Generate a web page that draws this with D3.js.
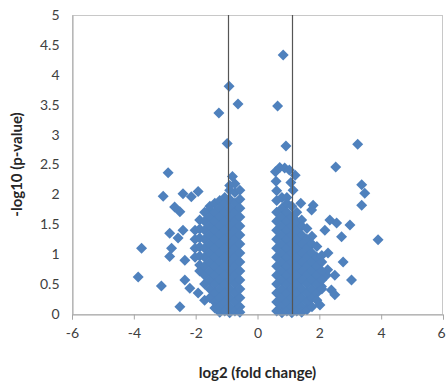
<!DOCTYPE html>
<html><head><meta charset="utf-8">
<script src="https://cdn.jsdelivr.net/npm/d3@7"></script>
<style>body{margin:0;background:#fff}svg{display:block}</style>
</head><body><svg id="c" width="446" height="383"></svg>
<script>
// ---- data ----
const xTicks = [-6, -4, -2, 0, 2, 4, 6];
const yTicks = [0, 0.5, 1, 1.5, 2, 2.5, 3, 3.5, 4, 4.5, 5];
const cutoffLines = [-0.95, 1.12];
const xTitle = "log2 (fold change)";
const yTitle = "-log10 (p-value)";

const log2FC = [
  // isolated points
  0.83, -0.92, -0.63, -1.25, 0.65, -0.98, 0.92, 3.24, 2.53, -0.81,
  -2.89, -3.05, -2.41, -1.92, -2.14, -2.68, -2.51, -1.54, -2.41, -2.84,
  -2.57, -3.75, -2.78, -2.84, -2.35, -3.86, -3.11, -2.35, -2.19, -1.92,
  -1.71, -2.51,
  3.47, 3.37, 3.37, 1.80, 1.75, 2.34, 2.56, 2.99, 2.18, 2.72,
  3.90, 2.28, 2.77, 2.23, 2.50, 3.04, 2.07, 2.39, 2.50, 2.02,
  2.27, 1.40,
  0.58, 0.72, 0.88, 1.03, 1.22, 0.60, 0.62, 1.08, 1.15,
  // dense cloud, down-regulated side
  -2.02, -2.02, -2.02, -2.02,
  -1.87, -1.87, -1.87, -1.87, -1.87, -1.87, -1.87,
  -1.71, -1.71, -1.71, -1.71, -1.71, -1.71, -1.71, -1.71, -1.71,
  -1.54, -1.54, -1.54, -1.54, -1.54, -1.54, -1.54, -1.54, -1.54, -1.54, -1.54,
  -1.38, -1.38, -1.38, -1.38, -1.38, -1.38, -1.38, -1.38, -1.38, -1.38, -1.38, -1.38, -1.38,
  -1.22, -1.22, -1.22, -1.22, -1.22, -1.22, -1.22, -1.22, -1.22, -1.22, -1.22, -1.22, -1.22, -1.22,
  -1.06, -1.06, -1.06, -1.06, -1.06, -1.06, -1.06, -1.06, -1.06, -1.06, -1.06, -1.06, -1.06, -1.06,
  -0.90, -0.90, -0.90, -0.90, -0.90, -0.90, -0.90, -0.90, -0.90, -0.90, -0.90, -0.90, -0.90, -0.90, -0.90, -0.90,
  -0.73, -0.73, -0.73, -0.73, -0.73, -0.73, -0.73, -0.73, -0.73, -0.73, -0.73, -0.73, -0.73, -0.73, -0.73,
  -0.57, -0.57, -0.57, -0.57, -0.57, -0.57, -0.57, -0.57, -0.57, -0.57, -0.57, -0.57, -0.57, -0.57, -0.57,
  // dense cloud, up-regulated side
  0.62, 0.62, 0.62, 0.62, 0.62, 0.62, 0.62, 0.62, 0.62, 0.62, 0.62, 0.62, 0.62,
  0.79, 0.79, 0.79, 0.79, 0.79, 0.79, 0.79, 0.79, 0.79, 0.79, 0.79, 0.79, 0.79, 0.79,
  0.95, 0.95, 0.95, 0.95, 0.95, 0.95, 0.95, 0.95, 0.95, 0.95, 0.95, 0.95, 0.95, 0.95,
  1.11, 1.11, 1.11, 1.11, 1.11, 1.11, 1.11, 1.11, 1.11, 1.11, 1.11, 1.11, 1.11,
  1.27, 1.27, 1.27, 1.27, 1.27, 1.27, 1.27, 1.27, 1.27, 1.27, 1.27, 1.27,
  1.43, 1.43, 1.43, 1.43, 1.43, 1.43, 1.43, 1.43, 1.43, 1.43, 1.43, 1.43,
  1.60, 1.60, 1.60, 1.60, 1.60, 1.60, 1.60, 1.60, 1.60, 1.60,
  1.76, 1.76, 1.76, 1.76, 1.76, 1.76, 1.76, 1.76, 1.76,
  1.92, 1.92, 1.92, 1.92, 1.92, 1.92, 1.92,
  2.08, 2.08, 2.08, 2.08, 2.08
];

const negLog10P = [
  // isolated points
  4.33, 3.81, 3.51, 3.36, 3.48, 2.85, 2.81, 2.84, 2.46, 2.30,
  2.36, 1.97, 2.01, 2.05, 1.96, 1.79, 1.71, 1.74, 1.40, 1.35,
  1.27, 1.10, 1.10, 0.96, 0.90, 0.62, 0.47, 0.57, 0.43, 0.35,
  0.23, 0.12,
  2.02, 1.82, 2.16, 1.82, 1.74, 1.57, 1.52, 1.49, 1.40, 1.29,
  1.24, 1.02, 0.87, 0.65, 0.65, 0.57, 0.46, 0.40, 0.32, 0.15,
  0.74, 1.85,
  2.38, 2.45, 2.44, 2.41, 2.32, 2.22, 2.06, 2.20, 2.07,
  // dense cloud, down-regulated side
  1.40, 1.25, 1.10, 0.95,
  1.57, 1.42, 1.27, 1.12, 0.97, 0.82, 0.72,
  1.70, 1.55, 1.40, 1.25, 1.10, 0.95, 0.80, 0.65, 0.50,
  1.80, 1.62, 1.47, 1.32, 1.17, 1.02, 0.87, 0.72, 0.57, 0.42, 0.27,
  1.85, 1.70, 1.55, 1.40, 1.25, 1.10, 0.95, 0.80, 0.65, 0.50, 0.35, 0.20, 0.10,
  1.90, 1.77, 1.62, 1.47, 1.32, 1.17, 1.02, 0.87, 0.72, 0.57, 0.42, 0.27, 0.12, 0.03,
  1.95, 1.85, 1.70, 1.55, 1.40, 1.25, 1.10, 0.95, 0.80, 0.65, 0.50, 0.35, 0.20, 0.05,
  2.15, 2.07, 1.92, 1.77, 1.62, 1.47, 1.32, 1.17, 1.02, 0.87, 0.72, 0.57, 0.42, 0.27, 0.12, 0.02,
  2.18, 2.03, 1.85, 1.70, 1.55, 1.40, 1.25, 1.10, 0.95, 0.80, 0.65, 0.50, 0.35, 0.20, 0.05,
  2.07, 1.92, 1.77, 1.62, 1.47, 1.32, 1.17, 1.02, 0.87, 0.72, 0.57, 0.42, 0.27, 0.12, 0.03,
  // dense cloud, up-regulated side
  1.90, 1.70, 1.55, 1.40, 1.25, 1.10, 0.95, 0.80, 0.65, 0.50, 0.35, 0.20, 0.05,
  1.95, 1.77, 1.62, 1.47, 1.32, 1.17, 1.02, 0.87, 0.72, 0.57, 0.42, 0.27, 0.12, 0.02,
  1.95, 1.85, 1.70, 1.55, 1.40, 1.25, 1.10, 0.95, 0.80, 0.65, 0.50, 0.35, 0.20, 0.05,
  1.80, 1.62, 1.47, 1.32, 1.17, 1.02, 0.87, 0.72, 0.57, 0.42, 0.27, 0.12, 0.02,
  1.70, 1.55, 1.40, 1.25, 1.10, 0.95, 0.80, 0.65, 0.50, 0.35, 0.20, 0.05,
  1.57, 1.47, 1.32, 1.17, 1.02, 0.87, 0.72, 0.57, 0.42, 0.27, 0.12, 0.03,
  1.43, 1.25, 1.10, 0.95, 0.80, 0.65, 0.50, 0.35, 0.20, 0.07,
  1.30, 1.17, 1.02, 0.87, 0.72, 0.57, 0.42, 0.27, 0.12,
  1.13, 0.95, 0.80, 0.65, 0.50, 0.35, 0.23,
  0.98, 0.87, 0.72, 0.57, 0.42
];

// ---- drawing ----
const W = 446, H = 383;
const m = {left: 72, top: 15, right: 3, bottom: 69};
const svg = d3.select("#c");
const x = d3.scaleLinear().domain([-6, 6]).range([m.left, W - m.right]);
const y = d3.scaleLinear().domain([0, 5]).range([H - m.bottom, m.top]);
const font = "Lato, 'Open Sans', sans-serif";

// plot-area border
svg.append("rect")
  .attr("x", m.left + 0.5).attr("y", m.top + 0.5)
  .attr("width", W - m.right - m.left - 1).attr("height", H - m.bottom - m.top)
  .attr("fill", "none").attr("stroke", "#c8c8c8").attr("stroke-width", 1);

// points
const pts = d3.range(log2FC.length).map(i => [log2FC[i], negLog10P[i]]);
const r = 5.5;
svg.append("g").selectAll("path").data(pts).join("path")
  .attr("d", `M0,${-r}L${r},0L0,${r}L${-r},0Z`)
  .attr("transform", d => `translate(${x(d[0])},${y(d[1])})`)
  .attr("fill", "#4F81BD");

// cutoff lines
svg.append("g").selectAll("line").data(cutoffLines).join("line")
  .attr("x1", d => Math.round(x(d)) + 0.5).attr("x2", d => Math.round(x(d)) + 0.5)
  .attr("y1", y(5)).attr("y2", y(0))
  .attr("stroke", "#555").attr("stroke-width", 1.2);

// x axis
const gx = svg.append("g")
  .attr("transform", `translate(0,${Math.round(y(0)) + 0.5})`)
  .call(d3.axisBottom(x).tickValues(xTicks).tickSize(5).tickPadding(9).tickFormat(d => String(d)));
gx.select(".domain").attr("stroke", "#a6a6a6");
gx.selectAll(".tick line").attr("stroke", "#a6a6a6");
gx.selectAll("text").attr("fill", "#404040").style("font", `14px ${font}`);
// keep the last label inside the window (it sits at the very right edge)
gx.selectAll(".tick text").filter(d => d === xTicks[xTicks.length - 1])
  .attr("text-anchor", "end").attr("dx", 2);

// y axis
const gy = svg.append("g")
  .attr("transform", `translate(${m.left + 0.5},0)`)
  .call(d3.axisLeft(y).tickValues(yTicks).tickSize(0).tickPadding(13).tickFormat(d => String(d)));
gy.select(".domain").attr("stroke", "#a6a6a6");
gy.selectAll("text").attr("fill", "#404040").style("font", `14px ${font}`);

// titles
svg.append("text").text(xTitle)
  .attr("x", (m.left + W - m.right) / 2).attr("y", 378)
  .attr("text-anchor", "middle").attr("fill", "#262626")
  .style("font", `bold 15px ${font}`);
svg.append("text").text(yTitle)
  .attr("transform", `translate(22,${(m.top + H - m.bottom) / 2}) rotate(-90)`)
  .attr("text-anchor", "middle").attr("fill", "#262626")
  .style("font", `bold 15px ${font}`);
</script>
</body></html>
